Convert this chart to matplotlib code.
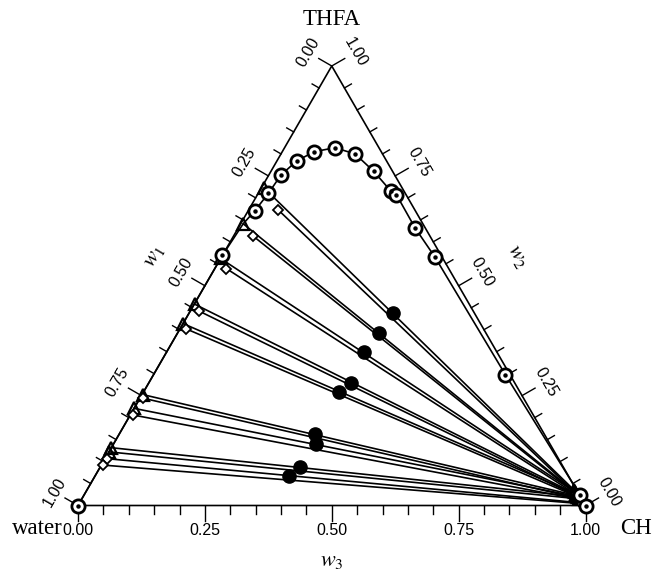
import numpy as np
import matplotlib
matplotlib.use("Agg")
import matplotlib.pyplot as plt

plt.rcParams['mathtext.fontset'] = 'stix'

# ---- data (mass fractions: w2 = THFA, w3 = CH, w1 = water) ----
binodal_w2 = [0.000, 0.569, 0.641, 0.670, 0.710, 0.752, 0.784, 0.805, 0.814, 0.800, 0.760,
              0.716, 0.707, 0.631, 0.565, 0.298, 0.023, 0.000]
binodal_w3 = [0.000, 0.000, 0.005, 0.013, 0.020, 0.024, 0.039, 0.063, 0.099, 0.146, 0.203,
              0.258, 0.274, 0.349, 0.421, 0.693, 0.978, 1.000]
ring_w2 = [0.000, 0.569, 0.670, 0.710, 0.752, 0.784, 0.805, 0.814, 0.800, 0.760,
           0.716, 0.707, 0.631, 0.565, 0.298, 0.023, 0.000]
ring_w3 = [0.000, 0.000, 0.013, 0.020, 0.024, 0.039, 0.063, 0.099, 0.146, 0.203,
           0.258, 0.274, 0.349, 0.421, 0.693, 0.978, 1.000]

# experimental tie lines (triangles)
exp_left_w2 = [0.722, 0.641, 0.562, 0.458, 0.414, 0.252, 0.221, 0.1315, 0.122]
exp_left_w3 = [0.006, 0.005, 0.000, 0.001, 0.000, 0.003, 0.000, 0.000, 0.000]
exp_right_w2 = [0.035, 0.032, 0.030, 0.026, 0.025, 0.022, 0.020, 0.020, 0.015]
exp_right_w3 = [0.960, 0.962, 0.965, 0.968, 0.970, 0.973, 0.975, 0.975, 0.980]

# calculated tie lines (diamonds)
calc_left_w2 = [0.672, 0.614, 0.539, 0.443, 0.402, 0.244, 0.206, 0.1065, 0.092]
calc_left_w3 = [0.059, 0.037, 0.023, 0.016, 0.012, 0.007, 0.005, 0.0045, 0.003]
calc_right_w2 = [0.028, 0.026, 0.024, 0.020, 0.019, 0.016, 0.014, 0.006, 0.004]
calc_right_w3 = [0.967, 0.969, 0.971, 0.975, 0.976, 0.979, 0.981, 0.989, 0.992]

# feed points (filled circles)
feed_w2 = [0.439, 0.392, 0.350, 0.279, 0.259, 0.162, 0.140, 0.087, 0.067]
feed_w3 = [0.401, 0.398, 0.388, 0.398, 0.385, 0.386, 0.398, 0.394, 0.382]

tick_vals = [0.00, 0.25, 0.50, 0.75, 1.00]
tick_labels = ["0.00", "0.25", "0.50", "0.75", "1.00"]

S3 = np.sqrt(3) / 2


def cart(w2, w3):
    w2 = np.asarray(w2, float)
    w3 = np.asarray(w3, float)
    return w3 + w2 / 2, w2 * S3


fig = plt.figure(figsize=(6.52, 5.73), dpi=100)
ax = fig.add_axes([0, 0, 1, 1])
ax.set_xlim(-78 / 507.5, (652 - 78) / 507.5)
ax.set_ylim(-(573 - 505.5) / 507.5, 505.5 / 507.5)
ax.axis('off')

lw = 1.2
# triangle frame
ax.plot([0, 1, 0.5, 0], [0, 0, S3, 0], color='black', lw=lw, zorder=2)

# ticks
minor = 8 / 507.5
major = 15 / 507.5
nL = np.array([-S3, 0.5])
nR = np.array([S3, 0.5])
for k in range(21):
    v = k * 0.05
    L = major if k % 5 == 0 else minor
    # bottom (w3)
    ax.plot([v, v], [0, -L], color='black', lw=1.0)
    # left (w1): 0 at apex, 1 at water
    p = np.array([0.5 - 0.5 * v, S3 * (1 - v)])
    q = p + L * nL
    ax.plot([p[0], q[0]], [p[1], q[1]], color='black', lw=1.0)
    # right (w2): 0 at CH, 1 at apex
    p = np.array([1 - 0.5 * v, S3 * v])
    q = p + L * nR
    ax.plot([p[0], q[0]], [p[1], q[1]], color='black', lw=1.0)

tfont = dict(family='Liberation Sans', fontsize=11.5)
for v, lab in zip(tick_vals, tick_labels):
    ax.text(v, -0.049, lab, ha='center', va='center', **tfont)
    p = np.array([0.5 - 0.5 * v, S3 * (1 - v)]) + 0.054 * nL
    ax.text(p[0], p[1], lab, ha='center', va='center', rotation=60, rotation_mode='anchor', **tfont)
    p = np.array([1 - 0.5 * v, S3 * v]) + 0.054 * nR
    ax.text(p[0], p[1], lab, ha='center', va='center', rotation=-60, rotation_mode='anchor', **tfont)

sfont = dict(family='Liberation Serif', fontsize=16.5)
ax.text(0.5, 0.957, "THFA", ha='center', va='center', **sfont)
ax.text(-0.031, -0.0554, "water", ha='right', va='baseline', **sfont)
ax.text(1.068, -0.0554, "CH", ha='left', va='baseline', **sfont)
ax.text(0.5, -0.110, r"$w_3$", ha='center', va='center', fontsize=16)
ax.text(0.1498, 0.4916, r"$w_1$", ha='center', va='center', rotation=60, fontsize=16)
ax.text(0.8664, 0.4916, r"$w_2$", ha='center', va='center', rotation=-60, fontsize=16)

# binodal curve
bx, by = cart(binodal_w2, binodal_w3)
ax.plot(bx, by, color='black', lw=lw, zorder=3)

# tie lines
for i in range(len(exp_left_w2)):
    x, y = cart([exp_left_w2[i], exp_right_w2[i]], [exp_left_w3[i], exp_right_w3[i]])
    ax.plot(x, y, color='black', lw=lw, zorder=3)
    x, y = cart([calc_left_w2[i], calc_right_w2[i]], [calc_left_w3[i], calc_right_w3[i]])
    ax.plot(x, y, color='black', lw=lw, zorder=3)

# markers
x, y = cart(exp_left_w2 + exp_right_w2, exp_left_w3 + exp_right_w3)
ax.plot(x, y, ls='none', marker='^', ms=8, mfc='none', mec='black', mew=1.6, zorder=5)
x, y = cart(calc_left_w2 + calc_right_w2, calc_left_w3 + calc_right_w3)
ax.plot(x, y, ls='none', marker='D', ms=5.5, mfc='white', mec='black', mew=1.3, zorder=5)
x, y = cart(feed_w2, feed_w3)
ax.plot(x, y, ls='none', marker='o', ms=9.5, color='black', zorder=6)
x, y = cart(ring_w2, ring_w3)
ax.plot(x, y, ls='none', marker='o', ms=9.5, mfc='white', mec='black', mew=2.0, zorder=6)
ax.plot(x, y, ls='none', marker='o', ms=2.2, color='black', zorder=7)

fig.savefig("out.png", dpi=100)
